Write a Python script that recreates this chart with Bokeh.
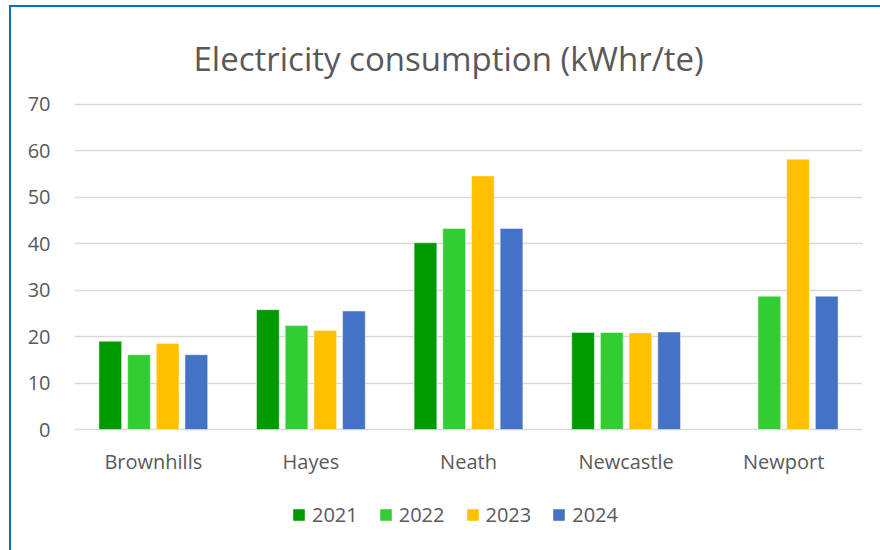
from bokeh.plotting import figure
from bokeh.models import ColumnDataSource, FactorRange, Range1d, Legend, LegendItem, Title, FixedTicker
from bokeh.transform import dodge
from bokeh.core.properties import value
from bokeh.embed import file_html
from bokeh.resources import INLINE

sites = ["Brownhills", "Hayes", "Neath", "Newcastle", "Newport"]
years = ["2021", "2022", "2023", "2024"]
v2021 = [19.0, 25.8, 40.2, 20.9, float("nan")]
v2022 = [16.1, 22.4, 43.3, 20.9, 28.7]
v2023 = [18.5, 21.3, 54.6, 20.8, 58.2]
v2024 = [16.1, 25.5, 43.3, 21.0, 28.7]
colors = ["#009900", "#33CC33", "#FFC000", "#4472C4"]
y_ticks = [0, 10, 20, 30, 40, 50, 60, 70]

FONT = "Open Sans"
TXT = "#595959"

# layout: the value axis (0..70.4) occupies 327 px; extra room below holds category labels and legend
y_top = 70.4
axis_px = 327
frame_h = 448
px_per = axis_px / y_top
y_bottom = -(frame_h - axis_px) / px_per
label_y = -32 / px_per

source = ColumnDataSource(dict(site=sites, y2021=v2021, y2022=v2022, y2023=v2023, y2024=v2024))
lab_source = ColumnDataSource(dict(site=sites, ly=[label_y] * len(sites)))

p = figure(x_range=FactorRange(*sites), y_range=Range1d(y_bottom, y_top),
           frame_width=788, frame_height=frame_h, output_backend="svg", toolbar_location=None,
           min_border_left=63, min_border_right=18, min_border_top=95, min_border_bottom=0)

t = Title(text="Electricity consumption (kWhr/te)", align="left",
          text_font=FONT, text_font_size="33px", text_color=TXT, text_font_style="normal",
          standoff=43, offset=119)
p.add_layout(t, "above")

pitch = 0.182
width = 0.144
offsets = [-1.5 * pitch, -0.5 * pitch, 0.5 * pitch, 1.5 * pitch]
items = []
for yr, col, off in zip(years, colors, offsets):
    r = p.vbar(x=dodge("site", off, range=p.x_range), top="y" + yr, bottom=0, width=width, source=source,
               fill_color=col, line_color="white", line_alpha=0.45, line_width=1)
    items.append(LegendItem(label=yr, renderers=[r]))

p.text(x="site", y="ly", text="site", source=lab_source, text_align="center", text_baseline="middle",
       text_font=value(FONT), text_font_size=value("20px"), text_color=TXT)

legend = Legend(items=items, orientation="horizontal", location=(217, 22),
                label_text_font=FONT, label_text_font_size="20px", label_text_color=TXT,
                glyph_width=15, glyph_height=15, spacing=20, label_standoff=6,
                border_line_color=None, background_fill_alpha=0, padding=0, margin=0)
p.add_layout(legend, "center")

p.yaxis.ticker = FixedTicker(ticks=y_ticks)
p.yaxis.axis_line_color = None
p.yaxis.major_tick_line_color = None
p.yaxis.minor_tick_line_color = None
p.yaxis.major_label_standoff = 18
p.yaxis.major_label_text_font = FONT
p.yaxis.major_label_text_font_size = "20px"
p.yaxis.major_label_text_color = TXT

p.xaxis.visible = False

p.xgrid.grid_line_color = None
p.ygrid.grid_line_color = "#d9d9d9"
p.ygrid.grid_line_width = 1.5
p.outline_line_color = None
p.x_range.range_padding = 0
p.x_range.group_padding = 0

p.styles = {"margin-left": "9px", "margin-top": "5px",
            "border-left": "2px solid #0070C0", "border-top": "2px solid #0070C0"}

open("out.html", "w").write(file_html(p, INLINE))
